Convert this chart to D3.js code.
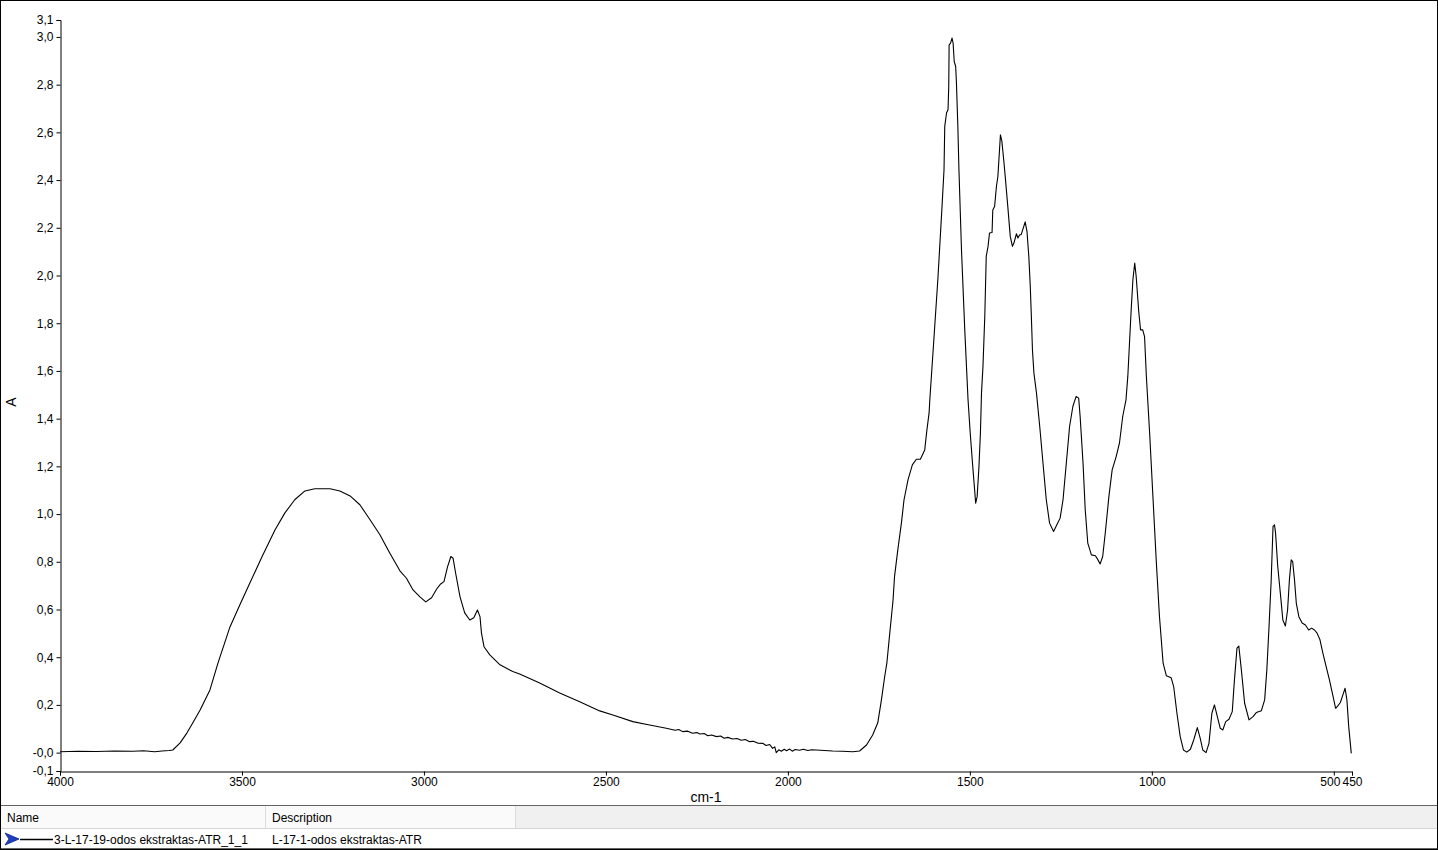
<!DOCTYPE html>
<html>
<head>
<meta charset="utf-8">
<script src="https://cdn.jsdelivr.net/npm/d3@7"></script>
<style>
html,body{margin:0;padding:0;background:#fff;}
svg{display:block;font-family:"Liberation Sans",Arial,sans-serif;}
</style>
</head>
<body>
<svg id="chart" width="1438" height="850"></svg>
<script>
// ---- data ----
const wavenumber = [
4000,3950,3900,3850,3800,3770,3740,3720,3700,3690,3670,3651,3635,3615,3588,3566,3533,3506,3478,3445,3409,3382,3355,3327,3300,3258,3231,3203,3176,3149,3121,3094,3066,3048,3030,3011,2995,2979,2965,2954,2945,2935,2926,2920,2913,2901,2888,2874,2863,2853,2846,2842,2835,2819,2791,2756,2737,2682,2627,2572,2517,2481,2426,2380,2334,
2310,2300,2289,2275,2262,2250,2242,2230,2220,2210,2196,2185,2175,2165,2152,2140,2128,2117,2105,2095,2083,2069,2060,2050,2042,2036,2032,2025,2018,2010,2004,1995,1988,1980,1968,1958,1945,1935,1922,1900,1877,1850,1822,1803,
1784,1767,1753,1743,1734,1728,1720,1711,1707,1698,1688,1681,1670,1658,1647,1636,1624,1618,1612,1610,1599,1588,1577,1571,1569,1564,1560,1558,1557,1553,1549,1546,1543,1539,1537,1533,1530,1523,1514,1505,1499,1492,1484,1480,1475,1471,1468,1464,1459,1455,1450,1446,1439,1437,1432,1427,1423,1416,1412,1407,1402,1395,1389,1383,1379,1372,1368,1363,1359,1352,1348,1343,1338,1334,1331,1328,1324,1317,1308,1299,1290,1281,1270,1261,1252,1244,1235,1226,1217,1208,1201,1197,1189,1183,1176,1166,1155,1148,1142,1135,1127,1118,1109,1098,1089,1080,1071,1066,1057,1052,1047,1043,1036,1031,1025,1020,1015,1006,997,988,979,969,960,947,940,931,922,913,904,894,885,875,867,860,851,843,835,828,820,812,805,797,788,779,773,766,761,754,745,733,722,713,699,690,684,678,672,667,663,660,654,646,640,633,627,622,617,613,608,603,596,587,578,569,561,553,546,538,530,521,512,504,495,489,482,475,469,464,459,452
];
const absorbance = [
0.004,0.006,0.005,0.007,0.006,0.008,0.004,0.007,0.009,0.011,0.041,0.083,0.125,0.179,0.263,0.375,0.527,0.619,0.712,0.821,0.934,1.005,1.060,1.097,1.106,1.106,1.097,1.076,1.039,0.978,0.913,0.837,0.762,0.731,0.682,0.653,0.632,0.649,0.686,0.707,0.717,0.780,0.822,0.815,0.753,0.654,0.586,0.556,0.565,0.598,0.570,0.502,0.444,0.410,0.368,0.340,0.330,0.292,0.250,0.213,0.175,0.158,0.130,0.116,0.102,
0.094,0.097,0.088,0.090,0.081,0.084,0.078,0.080,0.071,0.074,0.067,0.070,0.060,0.064,0.057,0.059,0.052,0.055,0.046,0.048,0.040,0.039,0.030,0.034,0.018,0.024,0.000,0.012,0.006,0.014,0.008,0.015,0.006,0.013,0.010,0.014,0.009,0.012,0.011,0.009,0.007,0.006,0.004,0.007,
0.032,0.074,0.125,0.221,0.319,0.376,0.502,0.640,0.738,0.850,0.963,1.059,1.143,1.206,1.230,1.230,1.269,1.353,1.424,1.479,1.730,1.982,2.275,2.443,2.625,2.682,2.695,2.792,2.967,2.974,2.995,2.974,2.897,2.876,2.813,2.625,2.443,2.107,1.772,1.479,1.340,1.198,1.046,1.073,1.199,1.340,1.508,1.618,1.828,2.080,2.122,2.178,2.180,2.275,2.289,2.373,2.415,2.590,2.562,2.485,2.401,2.275,2.164,2.122,2.136,2.175,2.157,2.171,2.171,2.205,2.225,2.184,2.080,1.954,1.828,1.688,1.591,1.508,1.367,1.213,1.060,0.962,0.927,0.955,0.983,1.060,1.213,1.367,1.451,1.493,1.486,1.409,1.213,1.018,0.878,0.829,0.825,0.808,0.791,0.822,0.934,1.073,1.185,1.241,1.297,1.409,1.479,1.577,1.849,1.982,2.052,1.996,1.849,1.772,1.772,1.744,1.577,1.339,1.073,0.808,0.570,0.375,0.322,0.314,0.277,0.165,0.067,0.011,0.002,0.014,0.053,0.105,0.060,0.011,0.000,0.039,0.165,0.200,0.151,0.102,0.095,0.130,0.140,0.172,0.305,0.438,0.447,0.347,0.207,0.137,0.151,0.168,0.176,0.221,0.347,0.528,0.724,0.948,0.955,0.920,0.780,0.654,0.556,0.531,0.598,0.724,0.808,0.801,0.724,0.626,0.570,0.543,0.535,0.514,0.522,0.514,0.501,0.473,0.417,0.361,0.305,0.249,0.186,0.196,0.210,0.242,0.270,0.221,0.109,-0.003
];
const xTickValues = [4000,3500,3000,2500,2000,1500,1000,500,450];
const xTickLabels = ["4000","3500","3000","2500","2000","1500","1000","500","450"];
const yTickValues = [-0.077,0,0.2,0.4,0.6,0.8,1.0,1.2,1.4,1.6,1.8,2.0,2.2,2.4,2.6,2.8,3.0,3.071];
const yTickLabels = ["-0,1","-0,0","0,2","0,4","0,6","0,8","1,0","1,2","1,4","1,6","1,8","2,0","2,2","2,4","2,6","2,8","3,0","3,1"];
const xDomain = [4000,450];
const yDomain = [-0.077,3.071];
const xTitle = "cm-1";
const yTitle = "A";
const legendHeaders = ["Name","Description"];
const seriesName = "3-L-17-19-odos ekstraktas-ATR_1_1";
const seriesDesc = "L-17-1-odos ekstraktas-ATR";

// ---- drawing ----
(function(){
const svg = d3.select("#chart");
const W = 1438, H = 850;
const plotL = 60, plotR = 1352, plotT = 20, plotB = 771;

svg.append("rect").attr("x",0).attr("y",0).attr("width",W).attr("height",H).attr("fill","#fff");

const x = d3.scaleLinear().domain(xDomain).range([plotL,plotR]);
const y = d3.scaleLinear().domain(yDomain).range([plotB,plotT]);

const xAxis = d3.axisBottom(x).tickValues(xTickValues)
  .tickFormat((d,i)=>xTickLabels[i]).tickSizeOuter(0).tickSize(4).tickPadding(2);
const gx = svg.append("g").attr("transform",`translate(0,${plotB+0.5})`).call(xAxis);
const yAxis = d3.axisLeft(y).tickValues(yTickValues)
  .tickFormat((d,i)=>yTickLabels[i]).tickSizeOuter(0).tickSize(4).tickPadding(3);
const gy = svg.append("g").attr("transform",`translate(${plotL+0.5},0)`).call(yAxis);

[gx,gy].forEach(g=>{
  g.selectAll("path").attr("stroke","#000").attr("stroke-width",1);
  g.selectAll("line").attr("stroke","#000");
  g.selectAll("text").attr("fill","#000").style("font-size","12px")
   .style("font-family","'Liberation Sans',Arial,sans-serif");
});
gx.selectAll(".tick text").attr("dx",(d)=> d===500 ? -4 : 0);

// axis titles
svg.append("text").attr("x",(plotL+plotR)/2).attr("y",802)
  .attr("text-anchor","middle").style("font-size","14px").attr("fill","#000").text(xTitle);
svg.append("text").attr("transform",`translate(16,402) rotate(-90)`)
  .attr("text-anchor","middle").style("font-size","14px").attr("fill","#000").text(yTitle);

// spectrum line
const n = Math.min(wavenumber.length, absorbance.length);
const pts = d3.range(n).map(i=>[wavenumber[i],absorbance[i]]);
const line = d3.line().x(d=>x(d[0])).y(d=>y(d[1]));
svg.append("path").datum(pts).attr("d",line)
  .attr("fill","none").attr("stroke","#000").attr("stroke-width",1.1)
  .attr("stroke-linejoin","round");

// legend panel
const pTop = 805;
svg.append("rect").attr("x",0).attr("y",pTop).attr("width",W).attr("height",H-pTop).attr("fill","#fff");
svg.append("rect").attr("x",1).attr("y",pTop+1).attr("width",W-2).attr("height",22).attr("fill","#f0f0f0");
svg.append("rect").attr("x",1).attr("y",pTop+1).attr("width",514).attr("height",22).attr("fill","#fafafa");
svg.append("line").attr("x1",0).attr("x2",W).attr("y1",pTop+0.5).attr("y2",pTop+0.5).attr("stroke","#646464");
svg.append("line").attr("x1",0).attr("x2",W).attr("y1",pTop+23.5).attr("y2",pTop+23.5).attr("stroke","#d5d5d5");
svg.append("line").attr("x1",0).attr("x2",W).attr("y1",H-1.5).attr("y2",H-1.5).attr("stroke","#646464");
[265.5,515.5].forEach(cx=>{
  svg.append("line").attr("x1",cx).attr("x2",cx).attr("y1",pTop+1).attr("y2",pTop+23).attr("stroke","#dcdcdc");
});
svg.append("text").attr("x",7).attr("y",822).style("font-size","12px").attr("fill","#000").text(legendHeaders[0]);
svg.append("text").attr("x",272).attr("y",822).style("font-size","12px").attr("fill","#000").text(legendHeaders[1]);
// series row
svg.append("path").attr("d","M5,833 L19,839 L5,845 L9,839 Z").attr("fill","#1f3fbf").attr("stroke","#0a1f8a").attr("stroke-width",0.8);
svg.append("line").attr("x1",20).attr("x2",53).attr("y1",839.5).attr("y2",839.5).attr("stroke","#000").attr("stroke-width",1.5);
svg.append("text").attr("x",54).attr("y",844).style("font-size","12px").attr("fill","#000").text(seriesName);
svg.append("text").attr("x",272).attr("y",844).style("font-size","12px").attr("fill","#000").text(seriesDesc);

// outer frame
svg.append("rect").attr("x",0.5).attr("y",0.5).attr("width",W-1).attr("height",H-1)
  .attr("fill","none").attr("stroke","#000");
})();
</script>
</body>
</html>
